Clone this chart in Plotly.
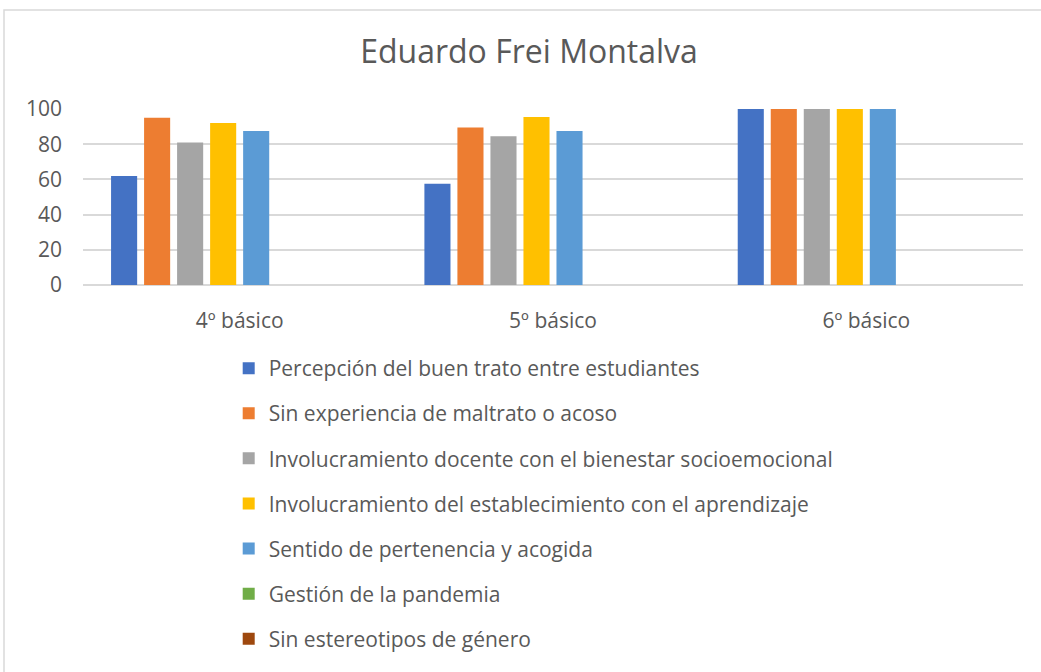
import plotly.graph_objects as go

categories = ["4º básico", "5º básico", "6º básico"]
series_names = [
    "Percepción del buen trato entre estudiantes",
    "Sin experiencia de maltrato o acoso",
    "Involucramiento docente con el bienestar socioemocional",
    "Involucramiento del establecimiento con el aprendizaje",
    "Sentido de pertenencia y acogida",
    "Gestión de la pandemia",
    "Sin estereotipos de género",
]
percepcion = [62, 57.5, 100]
sin_maltrato = [95, 89.5, 100]
docente = [81, 84.5, 100]
establecimiento = [92, 95.5, 100]
pertenencia = [87.5, 87.5, 100]
pandemia = [0, 0, 0]
estereotipos = [0, 0, 0]
extra_series = [None, None, None]  # unnamed eighth slot kept by the original chart

colors = ["#4472C4", "#ED7D31", "#A5A5A5", "#FFC000", "#5B9BD5", "#70AD47", "#9E480E", "#264478"]
values = [percepcion, sin_maltrato, docente, establecimiento, pertenencia, pandemia, estereotipos]

FONT = "Open Sans"
TXT = "#595959"

fig = go.Figure()
for i, (name, vals) in enumerate(zip(series_names, values)):
    fig.add_trace(go.Bar(
        x=categories, y=vals, name=name,
        marker=dict(color=colors[i], line=dict(width=0)),
        legendgroup=f"g{i}",
    ))
fig.add_trace(go.Bar(x=categories, y=extra_series, name="", showlegend=False,
                     marker=dict(color=colors[7], line=dict(width=0))))

fig.update_layout(
    width=1041, height=672,
    paper_bgcolor="white", plot_bgcolor="white",
    margin=dict(l=83, r=18, t=109, b=387, autoexpand=False),
    barmode="group", bargap=0.157, bargroupgap=0.21,
    font=dict(family=FONT, color=TXT, size=21),
    title=dict(text="Eduardo Frei Montalva", x=529 / 1041, xref="container",
               y=1 - 52 / 672, yref="container", xanchor="center", yanchor="middle",
               font=dict(family=FONT, size=32, color=TXT)),
    xaxis=dict(showgrid=False, showline=False, ticks="", tickfont=dict(size=21, color=TXT),
               ticklabelstandoff=21),
    yaxis=dict(range=[0, 100], dtick=20, showgrid=True, gridcolor="#d9d9d9", gridwidth=1.5,
               zeroline=True, zerolinecolor="#d9d9d9", zerolinewidth=1.5,
               showline=False, ticks="", tickfont=dict(size=21, color=TXT), ticklabelstandoff=20),
    legend=dict(orientation="v", x=0.155, xanchor="left",
                y=1 - 348 / 672, yref="container", yanchor="top",
                traceorder="grouped", tracegroupgap=14.8, font=dict(size=21, color=TXT),
                itemclick=False, itemdoubleclick=False),
    showlegend=True,
    shapes=[dict(type="rect", xref="paper", yref="paper",
                 x0=(4 - 83) / 940, x1=(1060 - 83) / 940,
                 y0=(285 - 10) / 176, y1=(285 - 700) / 176,
                 line=dict(color="#d9d9d9", width=1.5), fillcolor="rgba(0,0,0,0)", layer="below")],
)

fig.write_html("out.html", config={"displayModeBar": False},
               post_script="document.body.style.margin='0';")
